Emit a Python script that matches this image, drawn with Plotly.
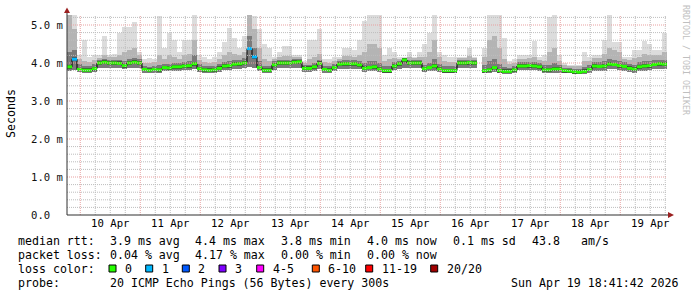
import plotly.graph_objects as go
import pandas as pd

# ---- data (2-hour bins, values in ms) ----
start = "2026-04-09 18:41:42"
end = "2026-04-19 18:41:42"

median = [3.90, 4.10, 3.83, 3.81, 3.81, 3.85, 4.00, 4.02, 4.00, 4.00,
          3.99, 3.93, 4.00, 4.02, 4.00, 3.83, 3.81, 3.83, 3.82, 3.88,
          3.87, 3.90, 3.90, 3.92, 3.93, 3.98, 3.85, 3.82, 3.81, 3.82,
          3.86, 3.92, 3.93, 3.97, 3.98, 4.00, 4.38, 4.16, 3.88, 3.81,
          3.81, 3.95, 4.00, 4.00, 4.00, 4.02, 4.03, 3.86, 3.86, 3.90,
          3.99, 3.83, 3.81, 3.88, 3.97, 3.98, 3.98, 3.98, 3.95, 3.86,
          3.88, 3.90, 3.84, 3.80, 3.80, 3.92, 3.98, 4.08, 4.00, 4.00,
          4.00, 3.85, 3.88, 3.92, 3.84, 3.80, 3.80, 3.80, 4.00, 4.00,
          4.01, 4.00, None, 3.80, 3.82, 3.88, 3.80, 3.78, 3.78, 3.82,
          3.92, 3.92, 3.93, 3.92, 3.90, 3.82, 3.82, 3.84, 3.84, 3.80,
          3.79, 3.77, 3.76, 3.78, 3.83, 3.92, 3.91, 3.92, 3.97, 3.96,
          3.93, 3.91, 3.86, 3.84, 3.90, 3.92, 3.93, 3.96, 3.98, 3.97]

smoke_min = [3.80, 3.82, 3.76, 3.74, 3.74, 3.76, 3.86, 3.88, 3.88, 3.88,
             3.86, 3.84, 3.86, 3.88, 3.86, 3.75, 3.74, 3.75, 3.75, 3.78,
             3.78, 3.80, 3.80, 3.81, 3.82, 3.84, 3.76, 3.75, 3.74, 3.75,
             3.77, 3.81, 3.82, 3.84, 3.85, 3.86, 3.90, 3.86, 3.78, 3.74,
             3.74, 3.82, 3.87, 3.87, 3.87, 3.88, 3.88, 3.77, 3.77, 3.80,
             3.85, 3.75, 3.74, 3.78, 3.85, 3.85, 3.85, 3.85, 3.83, 3.77,
             3.78, 3.79, 3.76, 3.73, 3.73, 3.81, 3.85, 3.88, 3.86, 3.86,
             3.86, 3.76, 3.78, 3.80, 3.76, 3.73, 3.73, 3.73, 3.87, 3.87,
             3.87, 3.87, None, 3.73, 3.74, 3.77, 3.73, 3.72, 3.72, 3.74,
             3.81, 3.81, 3.82, 3.81, 3.80, 3.74, 3.74, 3.75, 3.75, 3.73,
             3.73, 3.72, 3.71, 3.72, 3.75, 3.80, 3.80, 3.80, 3.83, 3.83,
             3.81, 3.80, 3.77, 3.75, 3.79, 3.80, 3.81, 3.83, 3.84, 3.84]

smoke_dark = [4.30, 4.35, 3.98, 3.93, 3.92, 3.98, 4.08, 4.10, 4.08, 4.08,
              4.08, 4.06, 4.10, 4.12, 4.10, 3.92, 3.90, 3.92, 3.94, 3.98,
              3.98, 4.00, 3.99, 4.02, 4.04, 4.20, 3.98, 3.93, 3.92, 3.93,
              3.97, 4.03, 4.05, 4.08, 4.08, 4.12, 4.70, 4.40, 4.05, 3.93,
              3.92, 4.04, 4.08, 4.08, 4.08, 4.10, 4.10, 3.95, 3.96, 4.00,
              4.08, 3.92, 3.91, 3.97, 4.05, 4.07, 4.07, 4.07, 4.05, 4.00,
              4.05, 4.05, 4.00, 3.92, 3.92, 4.02, 4.06, 4.12, 4.08, 4.08,
              4.08, 3.96, 4.00, 4.10, 3.98, 3.92, 3.91, 3.91, 4.07, 4.07,
              4.08, 4.07, None, 3.94, 4.05, 4.10, 3.98, 3.90, 3.88, 3.92,
              4.02, 4.02, 4.03, 4.03, 4.00, 3.94, 3.96, 4.00, 3.95, 3.88,
              3.86, 3.85, 3.85, 3.90, 3.94, 4.03, 4.02, 4.04, 4.10, 4.08,
              4.05, 4.02, 3.97, 3.96, 4.02, 4.04, 4.05, 4.07, 4.08, 4.08]

smoke_mid = [5.27, 4.90, 4.10, 4.05, 4.02, 4.08, 4.14, 4.20, 4.15, 4.15,
             4.20, 4.30, 4.35, 4.40, 4.20, 4.00, 4.00, 4.02, 4.20, 4.10,
             4.20, 4.15, 4.10, 4.20, 4.25, 4.60, 4.08, 4.03, 4.00, 4.03,
             4.10, 4.20, 4.30, 4.25, 4.20, 4.30, 5.27, 4.90, 4.40, 4.10,
             4.05, 4.10, 4.15, 4.18, 4.18, 4.15, 4.15, 4.00, 4.10, 4.15,
             4.25, 4.02, 4.00, 4.05, 4.10, 4.18, 4.18, 4.17, 4.20, 4.30,
             4.50, 4.50, 4.40, 4.05, 4.10, 4.12, 4.10, 4.14, 4.15, 4.12,
             4.15, 4.15, 4.30, 4.60, 4.15, 4.05, 4.02, 4.02, 4.12, 4.12,
             4.18, 4.12, None, 4.15, 4.60, 4.70, 4.40, 4.10, 3.98, 4.00,
             4.10, 4.10, 4.12, 4.15, 4.08, 4.05, 4.30, 4.40, 4.05, 3.95,
             3.92, 3.91, 3.91, 4.05, 4.05, 4.12, 4.12, 4.25, 4.40, 4.35,
             4.30, 4.10, 4.08, 4.12, 4.15, 4.25, 4.22, 4.20, 4.20, 4.30]

smoke_max = [5.27, 5.27, 4.20, 4.60, 4.15, 4.20, 4.20, 4.70, 4.20, 4.25,
             4.80, 4.95, 4.95, 5.08, 4.30, 4.10, 4.12, 4.10, 5.23, 4.40,
             4.80, 4.60, 4.30, 4.60, 4.60, 5.27, 4.20, 4.15, 4.10, 4.15,
             4.30, 4.55, 4.93, 4.65, 4.40, 4.70, 5.27, 5.23, 4.90, 4.50,
             4.40, 4.15, 4.30, 4.45, 4.45, 4.20, 4.20, 4.05, 4.60, 4.60,
             4.90, 4.10, 4.10, 4.15, 4.15, 4.40, 4.40, 4.35, 4.60, 5.10,
             5.27, 5.27, 5.27, 4.20, 4.40, 4.30, 4.15, 4.15, 4.30, 4.15,
             4.30, 4.50, 4.80, 5.27, 4.30, 4.20, 4.15, 4.15, 4.17, 4.17,
             4.40, 4.17, None, 4.40, 5.27, 5.27, 5.27, 4.65, 4.05, 4.10,
             4.20, 4.20, 4.20, 4.57, 4.15, 4.20, 5.20, 5.27, 4.20, 4.00,
             3.95, 3.95, 3.95, 4.30, 4.15, 4.20, 4.20, 4.60, 5.27, 4.55,
             4.55, 4.15, 4.15, 4.35, 4.35, 4.57, 4.50, 4.35, 4.35, 4.80]

# packets lost (out of 20) per bin; all other bins lost 0
loss_bins = {1: 1, 36: 1, 37: 1}

loss_labels = ["0", "1", "2", "3", "4-5", "6-10", "11-19", "20/20"]
loss_colors = ["#26ff00", "#00b8ff", "#0059ff", "#7e00ff", "#ff00ff",
               "#ff5500", "#ff0000", "#a10000"]

y_tick_vals = [0, 1, 2, 3, 4, 5]
y_tick_text = ["0.0\u00a0\u00a0", "1.0 m", "2.0 m", "3.0 m", "4.0 m", "5.0 m"]

stats_rtt = ["3.9 ms avg", "4.4 ms max", "3.8 ms min", "4.0 ms now", "0.1 ms sd", "43.8", "am/s"]
stats_loss = ["0.04 % avg", "4.17 % max", "0.00 % min", "0.00 % now"]
probe_text = "20 ICMP Echo Pings (56 Bytes) every 300s"
stamp_text = "Sun Apr 19 18:41:42 2026"

# ---- layout geometry (pixels) ----
W, H = 697, 297
L, R, T, B = 67, 30, 15, 82
PW, PH = W - L - R, H - T - B
MONO = "DejaVu Sans Mono"


def px(x):
    return (x - L) / PW


def py(y):
    return (H - B - y) / PH


n = len(median)
bin_ms = 2 * 3600 * 1000
t0 = pd.Timestamp(start)
t_start = [t0 + pd.Timedelta(hours=2 * i) for i in range(n)]
t_mid = [t + pd.Timedelta(hours=1) for t in t_start]


def diff(a, b):
    return [None if (u is None or v is None) else round(u - v, 4) for u, v in zip(a, b)]


fig = go.Figure()

# smoke layers
for top, col in [(smoke_max, "#dcdcdc"), (smoke_mid, "#b4b4b4"), (smoke_dark, "#7a7a7a")]:
    fig.add_trace(go.Bar(x=t_mid, y=diff(top, smoke_min), base=smoke_min, width=bin_ms,
                         marker=dict(color=col, line=dict(width=0)), hoverinfo="skip",
                         showlegend=False))
# dark core around the median
core_lo = [None if m is None else m - 0.05 for m in median]
fig.add_trace(go.Bar(x=t_mid, y=[None if m is None else 0.1 for m in median], base=core_lo,
                     width=bin_ms, marker=dict(color="#454545", line=dict(width=0)),
                     hoverinfo="skip", showlegend=False))

# median black line
fig.add_trace(go.Scatter(x=t_start + [pd.Timestamp(end)], y=median + [median[-1]],
                         mode="lines", line=dict(color="#000000", width=1, shape="hv"),
                         connectgaps=False, hoverinfo="skip", showlegend=False))

# loss coloured median segments
seg = {}
for i, m in enumerate(median):
    if m is None:
        continue
    lc = loss_bins.get(i, 0)
    xs, ys = seg.setdefault(lc, ([], []))
    xs += [t_start[i], t_start[i] + pd.Timedelta(hours=2), None]
    ys += [m, m, None]
for lc, (xs, ys) in seg.items():
    fig.add_trace(go.Scatter(x=xs, y=ys, mode="lines",
                             line=dict(color=loss_colors[lc], width=3),
                             hoverinfo="skip", showlegend=False))

shapes = []
# grid on top (rrdtool style)
minor_t = pd.date_range("2026-04-10 00:00", end, freq="6h")
for t in minor_t:
    if t.hour != 0:
        shapes.append(dict(type="line", xref="x", yref="paper", x0=t, x1=t, y0=0, y1=1,
                           line=dict(color="#bdbdbd", width=1, dash="1px,1px"), layer="above"))
for k in range(1, 27):
    v = k * 0.2
    if k % 5 != 0:
        shapes.append(dict(type="line", xref="paper", yref="y", x0=0, x1=1, y0=v, y1=v,
                           line=dict(color="#bdbdbd", width=1, dash="1px,1px"), layer="above"))
for t in minor_t:
    if t.hour == 0:
        shapes.append(dict(type="line", xref="x", yref="paper", x0=t, x1=t, y0=0, y1=1,
                           line=dict(color="#e8a0a0", width=1, dash="1px,1px"), layer="above"))
for v in y_tick_vals[1:]:
    shapes.append(dict(type="line", xref="paper", yref="y", x0=0, x1=1, y0=v, y1=v,
                       line=dict(color="#e8a0a0", width=1, dash="1px,1px"), layer="above"))

# axes with arrows
shapes.append(dict(type="line", xref="paper", yref="paper", x0=px(67), x1=px(67),
                   y0=py(215), y1=py(12), line=dict(color="#303030", width=1), layer="above"))
shapes.append(dict(type="line", xref="paper", yref="paper", x0=px(67), x1=px(669),
                   y0=py(215), y1=py(215), line=dict(color="#303030", width=1), layer="above"))
shapes.append(dict(type="path", xref="paper", yref="paper",
                   path=f"M {px(64)} {py(13)} L {px(70)} {py(13)} L {px(67)} {py(7.5)} Z",
                   fillcolor="#9b2020", line=dict(width=0), layer="above"))
shapes.append(dict(type="path", xref="paper", yref="paper",
                   path=f"M {px(668)} {py(212)} L {px(668)} {py(218)} L {px(674)} {py(215)} Z",
                   fillcolor="#9b2020", line=dict(width=0), layer="above"))

ann = []


def text(x, y, s, size=11.6, color="#000000", anchor="left", angle=0):
    ann.append(dict(xref="paper", yref="paper", x=px(x), y=py(y), text=s.replace(" ", "\u00a0"),
                    showarrow=False, xanchor=anchor, yanchor="middle", textangle=angle,
                    font=dict(family=MONO, size=size, color=color)))


rows = [241, 255, 269, 283]
stat_x = [107.5, 193, 279, 364.5, 451, 530, 579]
text(16, rows[0], "median rtt:")
for s, x in zip(stats_rtt, stat_x):
    text(x, rows[0], s)
text(16, rows[1], "packet loss:")
for s, x in zip(stats_loss, stat_x):
    text(x, rows[1], s)
text(16, rows[2], "loss color:")
box_x = [109, 145.7, 182.3, 219, 256.7, 312.3, 365.7, 430.7]
for lab, col, bx in zip(loss_labels, loss_colors, box_x):
    shapes.append(dict(type="rect", xref="paper", yref="paper", x0=px(bx), x1=px(bx + 7),
                       y0=py(272), y1=py(265), fillcolor=col,
                       line=dict(color="#000000", width=1), layer="above"))
    text(bx + 14, rows[2], lab)
text(16, rows[3], "probe:")
text(107.5, rows[3], probe_text)
text(681, rows[3], stamp_text, anchor="right")

text(11, 114, "Seconds", anchor="center", angle=-90)
text(686, 60, "RRDTOOL / TOBI OETIKER", size=8.3, color="#bfbfbf", anchor="center", angle=90)

fig.update_layout(
    width=W, height=H, margin=dict(l=L, r=R, t=T, b=B, pad=0),
    paper_bgcolor="#ffffff", plot_bgcolor="#ffffff",
    barmode="overlay", bargap=0, showlegend=False,
    shapes=shapes, annotations=ann,
    xaxis=dict(type="date", range=[start, end], showgrid=False, zeroline=False,
               showline=False, ticks="", dtick=86400000, tick0="2026-04-10",
               tickformat="%d %b", ticklabelmode="period",
               tickfont=dict(family=MONO, size=10.6, color="#000000")),
    yaxis=dict(range=[0, PH / 38.0], showgrid=False, zeroline=False, showline=False,
               ticks="", tickvals=y_tick_vals, ticktext=y_tick_text, ticklabelstandoff=3,
               tickfont=dict(family=MONO, size=10.6, color="#111111")),
)

fig.write_html("out.html")
